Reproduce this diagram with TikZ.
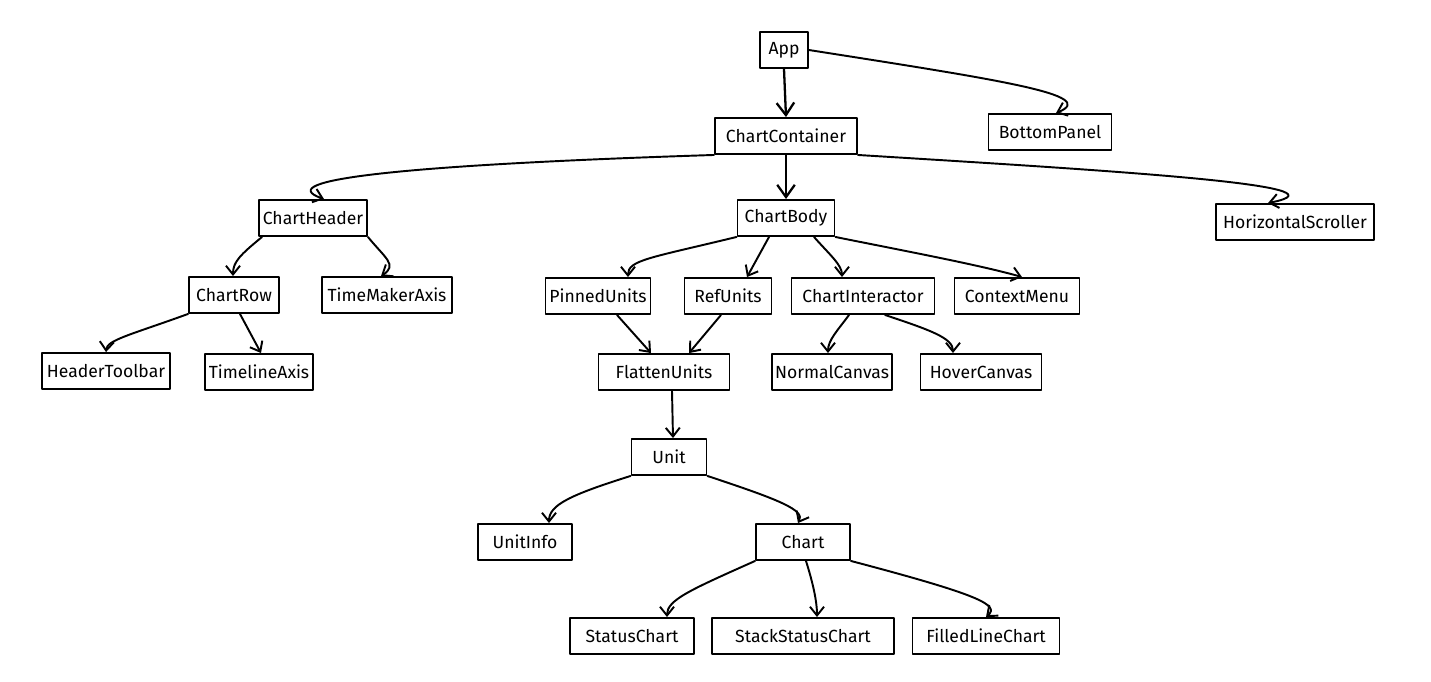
\documentclass[tikz,border=0pt]{standalone}
\usepackage{fontspec}
\setmainfont{Fira Sans}
\usetikzlibrary{arrows.meta}

\begin{document}
\begin{tikzpicture}[x=0.02cm, y=-0.02cm, >={Straight Barb[length=5pt,width=8pt]},
    line join=round, line cap=round,
    comp/.style={draw, line width=1.1pt, minimum height=0.72cm, inner sep=0pt,
      font=\fontsize{10}{12}\selectfont},
    wd/.style={minimum width=#1*0.02cm},
    link/.style={->, line width=1.1pt},
    biglink/.style={->, line width=1.3pt, >={Straight Barb[length=7pt,width=10pt]}}]
  \useasboundingbox (0,0) rectangle (1431,681);

  % Top level
  \node[comp, wd=48] (app) at (784,50) {App};
  \node[comp, wd=142] (cont) at (786,136) {ChartContainer};
  \node[comp, wd=123] (bp) at (1050,132) {BottomPanel};

  % Second level
  \node[comp, wd=108] (hdr) at (313,218) {ChartHeader};
  \node[comp, wd=97] (body) at (786,218) {ChartBody};
  \node[comp, wd=158] (hs) at (1295,222) {HorizontalScroller};

  % Header branch
  \node[comp, wd=90] (row) at (234,295) {ChartRow};
  \node[comp, wd=130] (tma) at (387,295) {TimeMakerAxis};
  \node[comp, wd=128] (htb) at (106,371) {HeaderToolbar};
  \node[comp, wd=108] (tla) at (259,372) {TimelineAxis};

  % Body branch
  \node[comp, wd=105] (pin) at (598,296) {PinnedUnits};
  \node[comp, wd=87] (ref) at (728,296) {RefUnits};
  \node[comp, wd=143] (ci) at (863,296) {ChartInteractor};
  \node[comp, wd=125] (ctx) at (1017,296) {ContextMenu};
  \node[comp, wd=131] (flat) at (664,372) {FlattenUnits};
  \node[comp, wd=120] (nc) at (832,372) {NormalCanvas};
  \node[comp, wd=121] (hc) at (981,372) {HoverCanvas};

  % Units
  \node[comp, wd=75] (unit) at (669,457) {Unit};
  \node[comp, wd=94] (ui) at (525,542) {UnitInfo};
  \node[comp, wd=94] (chart) at (803,542) {Chart};
  \node[comp, wd=124] (sc) at (632,636) {StatusChart};
  \node[comp, wd=182] (ssc) at (803,636) {StackStatusChart};
  \node[comp, wd=147] (flc) at (986,636) {FilledLineChart};

  % Connectors
  \draw[biglink] (app.south) -- (cont.north);
  \draw[link] (app.east) .. controls (1000,80) and (1100,95) .. ([xshift=6*0.02cm]bp.north);
  \draw[link] (cont.south west) .. controls (400,165) and (270,180) .. ([xshift=11*0.02cm]hdr.north);
  \draw[biglink] (cont.south) -- (body.north);
  \draw[link] (cont.south east) .. controls (1100,170) and (1360,185) .. ([xshift=-27*0.02cm]hs.north);

  \draw[link] ([xshift=4*0.02cm]hdr.south west) .. controls (240,255) and (233,262) .. ([xshift=-1*0.02cm]row.north);
  \draw[link] (hdr.south east) .. controls (385,258) and (398,265) .. ([xshift=-6*0.02cm]tma.north);
  \draw[link] (row.south west) .. controls (130,335) and (107,340) .. (htb.north);
  \draw[link] ([xshift=6*0.02cm]row.south) -- ([xshift=2*0.02cm]tla.north);

  \draw[link] (body.south west) .. controls (650,258) and (628,260) .. ([xshift=30*0.02cm]pin.north);
  \draw[link] ([xshift=-17*0.02cm]body.south) -- ([xshift=19*0.02cm]ref.north);
  \draw[link] ([xshift=28*0.02cm]body.south) .. controls (830,255) and (842,265) .. ([xshift=-21*0.02cm]ci.north);
  \draw[link] (body.south east) .. controls (900,250) and (980,265) .. ([xshift=5*0.02cm]ctx.north);

  \draw[link] ([xshift=19*0.02cm]pin.south) -- ([xshift=-13*0.02cm]flat.north);
  \draw[link] ([xshift=-7*0.02cm]ref.south) -- ([xshift=25*0.02cm]flat.north);
  \draw[link] ([xshift=-14*0.02cm]ci.south) .. controls (838,330) and (828,340) .. ([xshift=-4*0.02cm]nc.north);
  \draw[link] ([xshift=22*0.02cm]ci.south) .. controls (930,330) and (953,338) .. ([xshift=-28*0.02cm]hc.north);

  \draw[link] ([xshift=8*0.02cm]flat.south) -- ([xshift=4*0.02cm]unit.north);
  \draw[link] (unit.south west) .. controls (570,495) and (549,505) .. ([xshift=24*0.02cm]ui.north);
  \draw[link] (unit.south east) .. controls (780,500) and (805,510) .. ([xshift=-5*0.02cm]chart.north);
  \draw[link] (chart.south west) .. controls (690,590) and (667,600) .. ([xshift=35*0.02cm]sc.north);
  \draw[link] ([xshift=3*0.02cm]chart.south) .. controls (812,580) and (817,600) .. ([xshift=14*0.02cm]ssc.north);
  \draw[link] (chart.south east) .. controls (980,595) and (1000,605) .. (flc.north);
\end{tikzpicture}
\end{document}
